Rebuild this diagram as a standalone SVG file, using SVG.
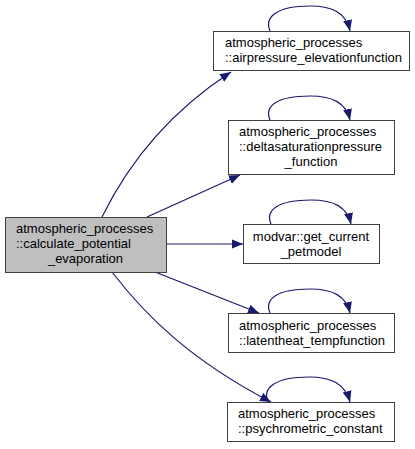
<svg xmlns="http://www.w3.org/2000/svg" width="415" height="449" viewBox="0 0 415 449">
<style>
.n rect{fill:#ffffff;stroke:#404040;stroke-width:1}
.n.m rect{fill:#bfbfbf}
text{font-family:"Liberation Sans",Arial,sans-serif;font-size:13px;fill:#000}
.e path{fill:none;stroke:#191970;stroke-width:1.2}
</style>
<defs>
<marker id="ah" viewBox="0 0 11 10" refX="11" refY="5" markerWidth="11" markerHeight="10" markerUnits="userSpaceOnUse" orient="auto">
<path d="M0,0.5 L11,5 L0,9.5 Z" fill="#191970" stroke="none"/>
</marker>
</defs>
<rect width="415" height="449" fill="#ffffff"/>
<g class="e" id="edges">
<path d="M102,217 C125,170 165,115 231,72" marker-end="url(#ah)"/>
<path d="M147,217 L240,175" marker-end="url(#ah)"/>
<path d="M166,244 L243,244" marker-end="url(#ah)"/>
<path d="M155,272 L259,313" marker-end="url(#ah)"/>
<path d="M112,272 C145,315 190,360 271,402" marker-end="url(#ah)"/>
<path d="M270,31 C264,17 277,6 310,6 C333,6 346,13 350,31" marker-end="url(#ah)"/>
<path d="M270,120 C264,106 277,96 310,96 C333,96 346,103 350,120" marker-end="url(#ah)"/>
<path d="M271,224 C265,210 278,200 311,200 C334,200 347,207 351,224" marker-end="url(#ah)"/>
<path d="M270,313 C264,299 277,289 310,289 C333,289 346,296 350,313" marker-end="url(#ah)"/>
<path d="M268,402 C262,388 275,377 309,377 C332,377 345,384 350,402" marker-end="url(#ah)"/>
</g>
<g class="n m" id="node_main">
<rect x="5.5" y="217.5" width="161" height="55"/>
<text x="16" y="233">atmospheric_processes</text>
<text x="16" y="248">::calculate_potential</text>
<text x="85.5" y="263" text-anchor="middle">_evaporation</text>
</g>
<g class="n" id="node_airpressure">
<rect x="213.5" y="31.5" width="196" height="39"/>
<text x="225" y="47">atmospheric_processes</text>
<text x="225" y="62">::airpressure_elevationfunction</text>
</g>
<g class="n" id="node_deltasat">
<rect x="228.5" y="120.5" width="166" height="54"/>
<text x="239" y="136">atmospheric_processes</text>
<text x="239" y="151">::deltasaturationpressure</text>
<text x="311" y="166" text-anchor="middle">_function</text>
</g>
<g class="n" id="node_modvar">
<rect x="243.5" y="224.5" width="136" height="39"/>
<text x="311" y="241" text-anchor="middle">modvar::get_current</text>
<text x="311" y="256" text-anchor="middle">_petmodel</text>
</g>
<g class="n" id="node_latentheat">
<rect x="228.5" y="313.5" width="166" height="39"/>
<text x="239" y="330">atmospheric_processes</text>
<text x="239" y="345">::latentheat_tempfunction</text>
</g>
<g class="n" id="node_psychro">
<rect x="227.5" y="402.5" width="167" height="39"/>
<text x="238" y="418">atmospheric_processes</text>
<text x="238" y="433">::psychrometric_constant</text>
</g>
</svg>
